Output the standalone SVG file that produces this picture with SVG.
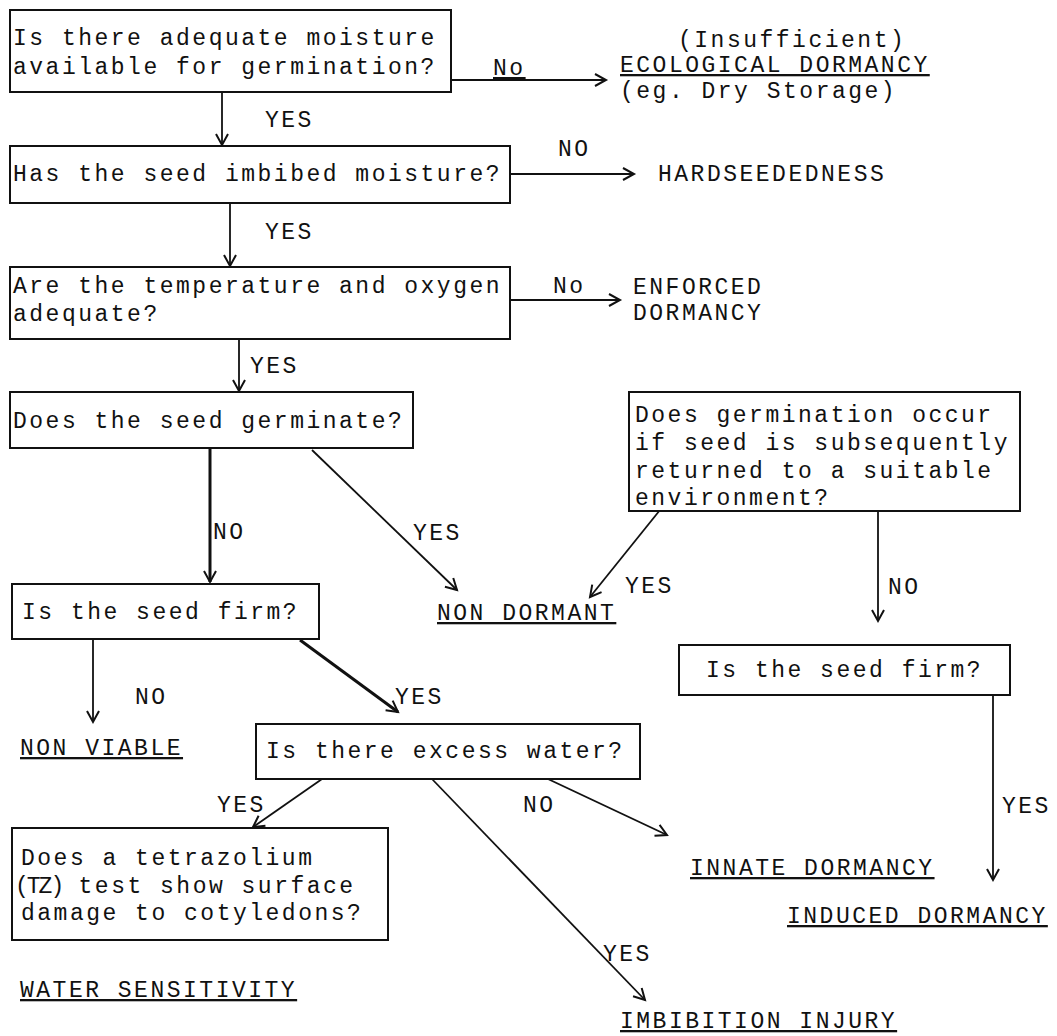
<svg xmlns="http://www.w3.org/2000/svg" width="1057" height="1036" viewBox="0 0 1057 1036">
<defs>
<style>
text{font-family:"Liberation Mono","DejaVu Sans Mono",monospace;font-size:23px;letter-spacing:2.5px;fill:#111}
.box{fill:#fff;stroke:#111;stroke-width:2}
.c{fill:none;stroke:#111;stroke-width:1.8}
.t{stroke-width:3}
.u{text-decoration:underline}
</style>
<marker id="ah" markerUnits="userSpaceOnUse" markerWidth="16" markerHeight="16" refX="13" refY="8" orient="auto">
<path d="M2,2 L13,8 L2,14" fill="none" stroke="#111" stroke-width="2"/>
</marker>
</defs>
<rect width="1057" height="1036" fill="#fff"/>

<g id="connectors">
<line class="c" x1="451" y1="80" x2="606" y2="80" marker-end="url(#ah)"/>
<line class="c" x1="222" y1="92" x2="222" y2="145" marker-end="url(#ah)"/>
<line class="c" x1="510" y1="174" x2="634" y2="174" stroke-width="2.6" marker-end="url(#ah)"/>
<line class="c" x1="230" y1="203" x2="230" y2="266" marker-end="url(#ah)"/>
<line class="c" x1="510" y1="300" x2="620" y2="300" marker-end="url(#ah)"/>
<line class="c" x1="239" y1="339" x2="239" y2="391" marker-end="url(#ah)"/>
<line class="c t" x1="210" y1="448" x2="210" y2="582" marker-end="url(#ah)"/>
<line class="c" x1="312" y1="450" x2="457" y2="590" marker-end="url(#ah)"/>
<line class="c" x1="660" y1="510" x2="590" y2="597" marker-end="url(#ah)"/>
<line class="c" x1="878" y1="511" x2="878" y2="621" marker-end="url(#ah)"/>
<line class="c" x1="93" y1="639" x2="93" y2="722" marker-end="url(#ah)"/>
<line class="c t" x1="300" y1="640" x2="398" y2="712" marker-end="url(#ah)"/>
<line class="c" x1="322" y1="779" x2="253" y2="827" marker-end="url(#ah)"/>
<line class="c" x1="548" y1="779" x2="667" y2="835" marker-end="url(#ah)"/>
<line class="c" x1="432" y1="779" x2="645" y2="1000" marker-end="url(#ah)"/>
<line class="c" x1="993" y1="695" x2="993" y2="880" marker-end="url(#ah)"/>
</g>

<g id="labels">
<text x="493" y="75" class="u">No</text>
<text x="265" y="127">YES</text>
<text x="558" y="156">NO</text>
<text x="265" y="239">YES</text>
<text x="553" y="293">No</text>
<text x="250" y="373">YES</text>
<text x="213" y="539">NO</text>
<text x="413" y="540">YES</text>
<text x="625" y="593">YES</text>
<text x="888" y="594">NO</text>
<text x="135" y="704">NO</text>
<text x="395" y="704">YES</text>
<text x="217" y="812">YES</text>
<text x="523" y="812">NO</text>
<text x="603" y="961">YES</text>
<text x="1002" y="813">YES</text>
</g>

<g id="n-moisture">
<rect class="box" x="10" y="10" width="441" height="82"/>
<text x="13" y="45">Is there adequate moisture</text>
<text x="13" y="74">available for germination?</text>
</g>
<g id="n-ecological">
<text x="678" y="47">(Insufficient)</text>
<text x="620" y="72" class="u">ECOLOGICAL DORMANCY</text>
<text x="620" y="98">(eg. Dry Storage)</text>
</g>
<g id="n-imbibed">
<rect class="box" x="10" y="146" width="500" height="57"/>
<text x="13" y="181">Has the seed imbibed moisture?</text>
</g>
<g id="n-hardseed">
<text x="658" y="181">HARDSEEDEDNESS</text>
</g>
<g id="n-temp">
<rect class="box" x="10" y="267" width="500" height="72"/>
<text x="13" y="293">Are the temperature and oxygen</text>
<text x="13" y="321">adequate?</text>
</g>
<g id="n-enforced">
<text x="633" y="294">ENFORCED</text>
<text x="633" y="320">DORMANCY</text>
</g>
<g id="n-germinate">
<rect class="box" x="10" y="392" width="403" height="56"/>
<text x="13" y="428">Does the seed germinate?</text>
</g>
<g id="n-return">
<rect class="box" x="629" y="392" width="391" height="119"/>
<text x="635" y="422">Does germination occur</text>
<text x="635" y="450">if seed is subsequently</text>
<text x="635" y="478">returned to a suitable</text>
<text x="635" y="505">environment?</text>
</g>
<g id="n-nondormant">
<text x="437" y="620" class="u">NON DORMANT</text>
</g>
<g id="n-firm1">
<rect class="box" x="12" y="584" width="307" height="55"/>
<text x="22" y="619">Is the seed firm?</text>
</g>
<g id="n-firm2">
<rect class="box" x="679" y="645" width="331" height="50"/>
<text x="706" y="677">Is the seed firm?</text>
</g>
<g id="n-nonviable">
<text x="20" y="755" class="u">NON VIABLE</text>
</g>
<g id="n-excess">
<rect class="box" x="256" y="724" width="384" height="55"/>
<text x="266" y="758">Is there excess water?</text>
</g>
<g id="n-tz">
<rect class="box" x="12" y="828" width="376" height="112"/>
<text x="21" y="865">Does a tetrazolium</text>
<text x="15" y="893"><tspan style="letter-spacing:-2px">(TZ)</tspan> test show surface</text>
<text x="21" y="920">damage to cotyledons?</text>
</g>
<g id="n-watersens">
<text x="20" y="997" class="u">WATER SENSITIVITY</text>
</g>
<g id="n-innate">
<text x="690" y="875" class="u">INNATE DORMANCY</text>
</g>
<g id="n-induced">
<text x="787" y="923" class="u">INDUCED DORMANCY</text>
</g>
<g id="n-imbibition">
<text x="620" y="1028" class="u">IMBIBITION INJURY</text>
</g>
</svg>
